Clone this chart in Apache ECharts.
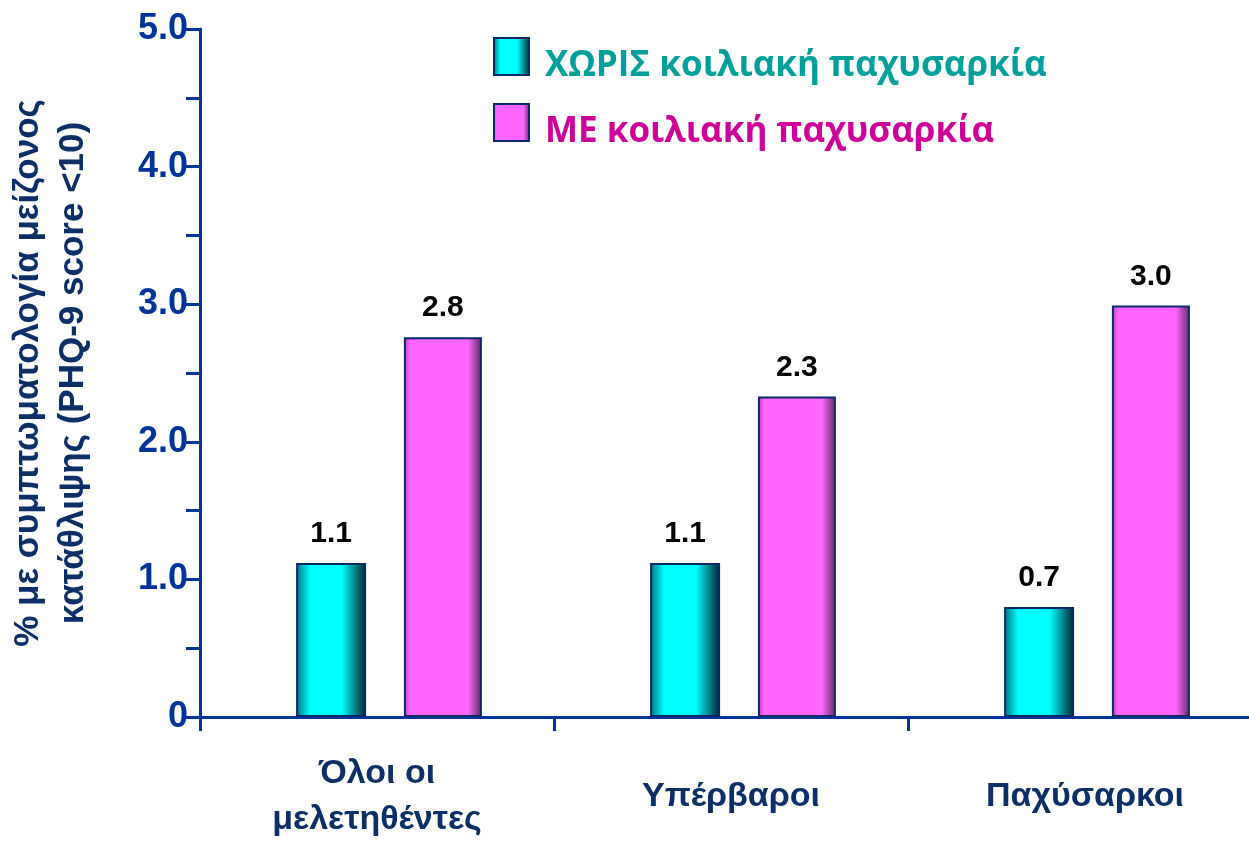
<!DOCTYPE html>
<html>
<head>
<meta charset="utf-8">
<script src="https://cdn.jsdelivr.net/npm/echarts@6/dist/echarts.min.js"></script>
<style>
  html, body { margin: 0; padding: 0; background: #fff; }
  #chart { width: 1249px; height: 845px; }
</style>
</head>
<body>
<div id="chart"></div>
<script>
// data
var categories = ['Όλοι οι\nμελετηθέντες', 'Υπέρβαροι', 'Παχύσαρκοι'];
var seriesNames = ['ΧΩΡΙΣ κοιλιακή παχυσαρκία', 'ΜΕ κοιλιακή παχυσαρκία'];
var withoutValues = [1.12, 1.12, 0.80];
var withValues = [2.76, 2.33, 2.99];
var withoutLabels = ['1.1', '1.1', '0.7'];
var withLabels = ['2.8', '2.3', '3.0'];
var yTicks = [0, 1, 2, 3, 4, 5];

var chart = echarts.init(document.getElementById('chart'));

var blue = '#003399';
var navy = '#0b2f66';
var cyanFill = new echarts.graphic.LinearGradient(0, 0, 1, 0, [
    { offset: 0, color: '#006f78' },
    { offset: 0.2, color: '#00ffff' },
    { offset: 0.65, color: '#00ffff' },
    { offset: 1, color: '#00222c' }
]);
var pinkFill = new echarts.graphic.LinearGradient(0, 0, 1, 0, [
    { offset: 0, color: '#b040b0' },
    { offset: 0.08, color: '#ff66ff' },
    { offset: 0.82, color: '#ff66ff' },
    { offset: 1, color: '#5a2a60' }
]);

var labelStyle = {
    show: true,
    position: 'top',
    distance: 14,
    color: '#000',
    fontFamily: 'Liberation Sans',
    fontWeight: 'bold',
    fontSize: 30
};

var legendText = {
    fontFamily: 'Open Sans',
    fontWeight: 'bold',
    fontSize: 35,
    padding: [20, 0, 0, 11]
};

option = {
    animation: false,
    backgroundColor: '#fff',
    legend: {
        orient: 'vertical',
        left: 493,
        top: 37,
        padding: 0,
        itemWidth: 35,
        itemHeight: 37,
        itemGap: 19,
        icon: 'rect',
        formatter: '{t|{name}}',
        data: [
            { name: seriesNames[0], textStyle: { color: '#00a09a', rich: { t: Object.assign({ color: '#00a09a' }, legendText) } } },
            { name: seriesNames[1], textStyle: { color: '#cc0099', rich: { t: Object.assign({ color: '#cc0099' }, legendText) } } }
        ],
        textStyle: {
            fontFamily: 'Open Sans',
            fontWeight: 'bold',
            fontSize: 35
        }
    },
    grid: [
        { left: 200, top: 29, width: 1062, bottom: 128, outerBoundsMode: 'none' },
        { left: 212, top: 29, width: 1062, bottom: 128, outerBoundsMode: 'none' }
    ],
    xAxis: [{
        type: 'category',
        gridIndex: 0,
        data: categories,
        axisLine: { lineStyle: { color: blue, width: 3 } },
        axisTick: { show: true, length: 14, lineStyle: { color: blue, width: 3 } },
        axisLabel: {
            color: navy,
            fontFamily: 'Liberation Sans',
            fontWeight: 'bold',
            fontSize: 34,
            lineHeight: 46,
            verticalAlign: 'middle',
            margin: 80
        }
    }, {
        type: 'category',
        gridIndex: 1,
        data: categories,
        show: false
    }],
    yAxis: [{
        type: 'value',
        gridIndex: 0,
        min: 0,
        max: 5,
        interval: 0.5,
        name: '% με συμπτωματολογία μείζονος\nκατάθλιψης (PHQ-9 score <10)',
        nameLocation: 'middle',
        nameRotate: 90,
        nameGap: 104,
        nameTextStyle: {
            color: navy,
            fontFamily: 'Liberation Sans',
            fontWeight: 'bold',
            fontSize: 35,
            lineHeight: 45
        },
        splitLine: { show: false },
        axisLine: { show: true, lineStyle: { color: blue, width: 3 } },
        axisTick: { show: true, length: 14, lineStyle: { color: blue, width: 3 } },
        axisLabel: {
            color: blue,
            fontFamily: 'Liberation Sans',
            fontWeight: 'bold',
            fontSize: 36,
            margin: 12,
            formatter: function (v) {
                if (yTicks.indexOf(v) < 0) return '';
                return v === 0 ? '0' : v.toFixed(1);
            }
        }
    }, {
        type: 'value',
        gridIndex: 1,
        min: 0,
        max: 5,
        interval: 0.5,
        show: false
    }],
    series: [{
        name: seriesNames[0],
        type: 'bar',
        xAxisIndex: 1,
        yAxisIndex: 1,
        barWidth: 70,
        barGap: '54%',
        data: withoutValues,
        itemStyle: { color: cyanFill, borderColor: '#0a2a6a', borderWidth: 2 },
        label: Object.assign({}, labelStyle, {
            formatter: function (p) { return withoutLabels[p.dataIndex]; }
        })
    }, {
        name: seriesNames[1],
        type: 'bar',
        xAxisIndex: 1,
        yAxisIndex: 1,
        barWidth: 78,
        barGap: '54%',
        data: withValues,
        itemStyle: { color: pinkFill, borderColor: '#0a2a6a', borderWidth: 2 },
        label: Object.assign({}, labelStyle, {
            formatter: function (p) { return withLabels[p.dataIndex]; }
        })
    }]
};
chart.setOption(option);
</script>
</body>
</html>
